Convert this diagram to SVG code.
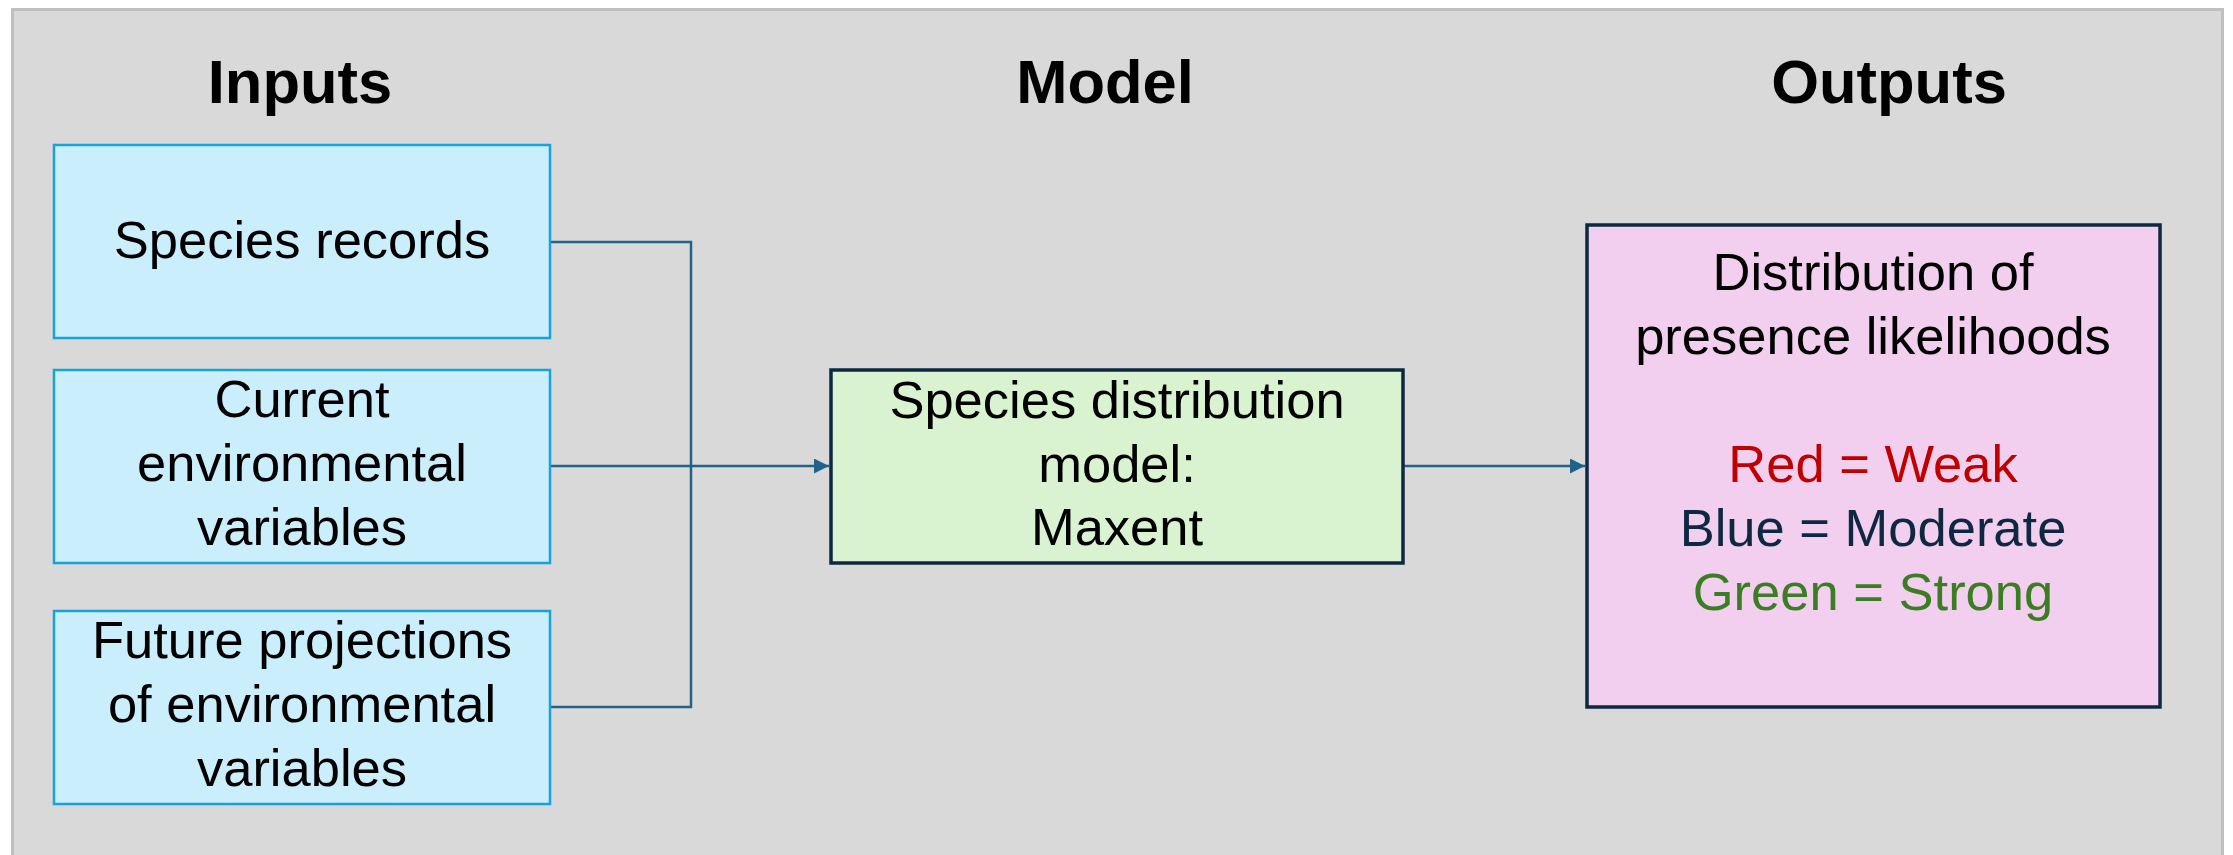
<svg xmlns="http://www.w3.org/2000/svg" width="2233" height="855" viewBox="0 0 2233 855">
  <style>
    .hdr { font-family: "Liberation Sans", Arial, sans-serif; font-weight: bold; font-size: 61.5px; fill: #000; text-anchor: middle; }
    .txt { font-family: "Liberation Sans", Arial, sans-serif; font-size: 52.5px; fill: #000; text-anchor: middle; }
    .inbox { fill: #CAEEFB; stroke: #17A2D8; stroke-width: 2.5; }
    .model { fill: #D9F2D0; stroke: #0E2841; stroke-width: 3.5; }
    .out { fill: #F2CFEE; stroke: #0E2841; stroke-width: 3.5; }
    .conn { fill: none; stroke: #1F6386; stroke-width: 2.5; }
  </style>
  <defs>
    <marker id="arr" viewBox="0 0 10 10" refX="10" refY="5" markerWidth="6" markerHeight="6" markerUnits="strokeWidth" orient="auto">
      <path d="M0,0 L10,5 L0,10 z" fill="#1F6386"/>
    </marker>
  </defs>
  <rect x="0" y="0" width="2233" height="855" fill="#ffffff"/>
  <rect id="frame" x="12.5" y="9.5" width="2210" height="870" fill="#D9D9D9" stroke="#BFBFBF" stroke-width="3"/>

  <text class="hdr" x="300" y="103">Inputs</text>
  <text class="hdr" x="1105" y="103">Model</text>
  <text class="hdr" x="1889" y="103">Outputs</text>

  <g id="connectors">
    <path class="conn" d="M550,242 H691 V707 H550"/>
    <path class="conn" d="M550,466 H829" marker-end="url(#arr)"/>
    <path class="conn" d="M1403,466 H1585" marker-end="url(#arr)"/>
  </g>

  <g id="species-records">
    <rect class="inbox" x="54" y="145" width="496" height="193"/>
    <text class="txt" x="302" y="258">Species records</text>
  </g>
  <g id="current-env">
    <rect class="inbox" x="54" y="370" width="496" height="193"/>
    <text class="txt" x="302" y="417">Current</text>
    <text class="txt" x="302" y="481">environmental</text>
    <text class="txt" x="302" y="545">variables</text>
  </g>
  <g id="future-env">
    <rect class="inbox" x="54" y="611" width="496" height="193"/>
    <text class="txt" x="302" y="658">Future projections</text>
    <text class="txt" x="302" y="722">of environmental</text>
    <text class="txt" x="302" y="786">variables</text>
  </g>
  <g id="model">
    <rect class="model" x="831" y="370" width="572" height="193"/>
    <text class="txt" x="1117" y="418">Species distribution</text>
    <text class="txt" x="1117" y="482">model:</text>
    <text class="txt" x="1117" y="545">Maxent</text>
  </g>
  <g id="outputs">
    <rect class="out" x="1587" y="225" width="573" height="482"/>
    <text class="txt" x="1873" y="290">Distribution of</text>
    <text class="txt" x="1873" y="354">presence likelihoods</text>
    <text class="txt" x="1873" y="482" style="fill:#C00000">Red = Weak</text>
    <text class="txt" x="1873" y="546" style="fill:#0E2841">Blue = Moderate</text>
    <text class="txt" x="1873" y="610" style="fill:#3A7D22">Green = Strong</text>
  </g>
</svg>
